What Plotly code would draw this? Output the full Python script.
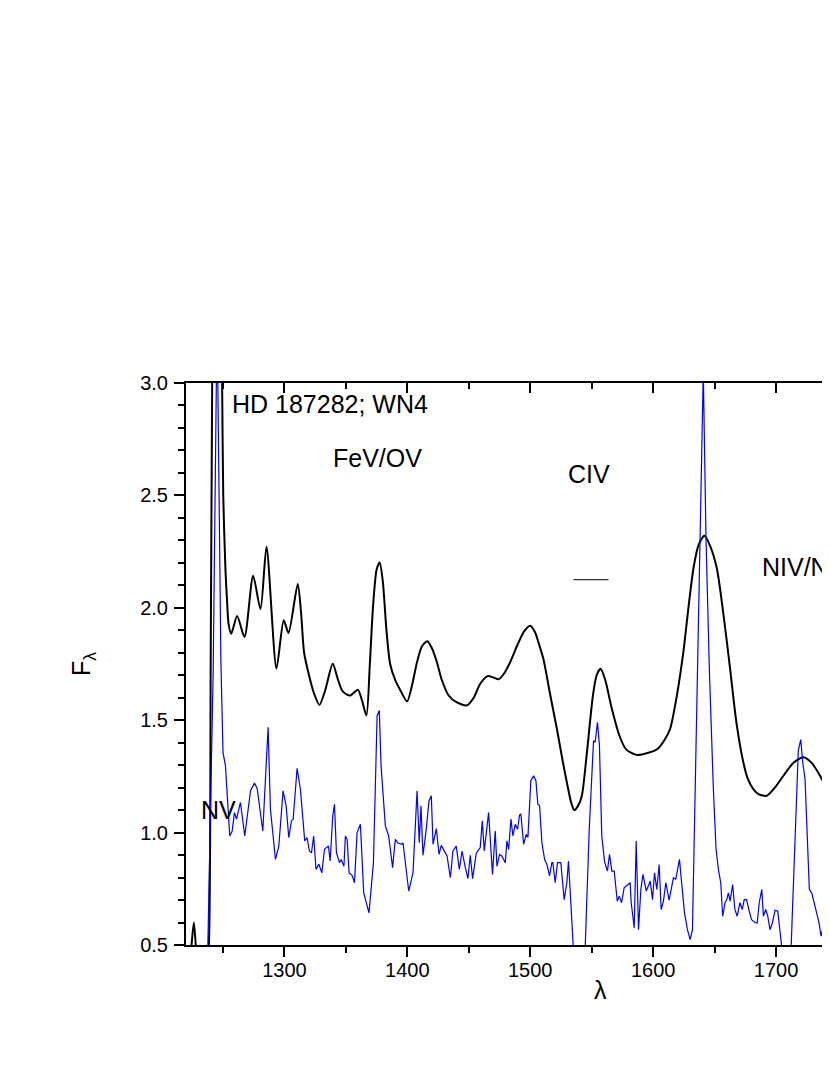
import plotly.graph_objects as go

# colours / fonts
INK = "#000000"
BLUE = "#0000FF"
FONT = "Liberation Sans, Arial, Helvetica, sans-serif"

# smoothed spectrum (black)
wave_smooth = [1218, 1221, 1224, 1226.3, 1228.5, 1232, 1236, 1238.5, 1240, 1241.2, 1243, 1245.5, 1248,
               1249.3, 1250.2, 1252, 1253.4, 1254.5, 1256.7, 1261.5, 1267.5, 1274.5, 1280.5, 1285.4,
               1293.5, 1299.4, 1303.3, 1310.8, 1313.5, 1316, 1320, 1324, 1328.5, 1333, 1339.3, 1343,
               1346.9, 1350.5, 1353.7, 1357, 1359.9, 1363, 1366.7, 1369.5, 1372, 1375, 1377.5, 1380,
               1383, 1386, 1390, 1394.3, 1399.8, 1404, 1407.9, 1412, 1416.3, 1420, 1424, 1428, 1433.6,
               1440, 1448.5, 1454, 1459.3, 1465.3, 1470, 1474.2, 1479, 1483.7, 1490, 1495, 1500, 1504,
               1507, 1510.8, 1516, 1521.7, 1526, 1529.8, 1533, 1535.8, 1539, 1542, 1546, 1551, 1554,
               1557.2, 1561, 1566, 1572.5, 1578, 1584, 1587, 1596, 1603.5, 1609, 1613.8, 1619, 1624.6,
               1628.5, 1632.8, 1637, 1641.7, 1646, 1651.8, 1657, 1662.6, 1668, 1673.4, 1677, 1681.5,
               1686, 1692.4, 1699, 1706, 1714, 1722.2, 1729, 1735.8, 1740, 1744.5]
flux_smooth = [0.30, 0.38, 0.48, 0.60, 0.45, 0.30, 0.35, 0.50, 1.76, 3.00, 3.90, 4.20, 3.70,
               3.00, 2.50, 2.17, 2.02, 1.93, 1.885, 1.963, 1.87, 2.143, 1.994, 2.272,
               1.73, 1.945, 1.888, 2.106, 1.98, 1.80, 1.70, 1.62, 1.568, 1.63, 1.751, 1.69,
               1.632, 1.615, 1.61, 1.625, 1.635, 1.59, 1.521, 1.75, 2.00, 2.17, 2.202, 2.12,
               1.90, 1.75, 1.68, 1.633, 1.583, 1.66, 1.759, 1.83, 1.851, 1.82, 1.759, 1.68, 1.61,
               1.58, 1.566, 1.60, 1.662, 1.696, 1.69, 1.682, 1.71, 1.759, 1.84, 1.895, 1.92, 1.89,
               1.84, 1.77, 1.62, 1.461, 1.33, 1.223, 1.14, 1.10, 1.12, 1.164, 1.35, 1.61, 1.70,
               1.729, 1.68, 1.56, 1.432, 1.37, 1.35, 1.345, 1.355, 1.372, 1.41, 1.461, 1.60, 1.804,
               1.99, 2.176, 2.28, 2.32, 2.28, 2.176, 1.98, 1.729, 1.48, 1.312, 1.24, 1.193,
               1.17, 1.164, 1.20, 1.253, 1.31, 1.335, 1.31, 1.253, 1.21, 1.176]

# observed spectrum (blue)
wave_obs = [1236, 1237.7, 1242, 1245.2, 1248.3, 1250, 1252, 1255.5, 1257.5, 1259.3, 1261, 1264.2, 1267.7,
            1272.4, 1275.6, 1277.8, 1282.4, 1286.7, 1288.6, 1292.7, 1295.4, 1298.9, 1301.4, 1303.5,
            1305.7, 1307.1, 1310.3, 1313, 1316.5, 1318.4, 1320.3, 1322, 1323.8, 1325.7, 1328, 1330.4,
            1332.6, 1335.8, 1337.2, 1339.3, 1340.7, 1342.3, 1344.8, 1346.1, 1348.4, 1349.6, 1351,
            1352.6, 1355, 1357, 1359.1, 1361.8, 1364.5, 1368.8, 1372.4, 1375.4, 1377.2, 1378.6,
            1382.1, 1384.8, 1388, 1390.2, 1392.1, 1395.6, 1396.5, 1398.4, 1401.1, 1404.6, 1406,
            1407.9, 1409.7, 1411.1, 1412.7, 1415.4, 1417.6, 1419.5, 1420.9, 1423.6, 1425.8, 1427.6,
            1432.3, 1435, 1437.1, 1439.8, 1442.3, 1444.5, 1447.2, 1449.3, 1451.2, 1453.1, 1456.1,
            1459.3, 1461, 1462.6, 1466.1, 1467.9, 1469.3, 1471.5, 1472.9, 1475, 1476.9, 1479.7,
            1481, 1482.4, 1484.3, 1485.9, 1487.8, 1489.7, 1491.3, 1492.4, 1494.6, 1496.7, 1498.1,
            1500.5, 1502.7, 1504.6, 1506.2, 1507.6, 1509.5, 1511.7, 1513.6, 1515.7, 1517.6, 1518.4,
            1520.3, 1522.2, 1524.9, 1527.6, 1529.8, 1531.1, 1533, 1535.2, 1538, 1542, 1544.7, 1548,
            1551.5, 1552.8, 1554.7, 1556.3, 1558.2, 1560.5, 1562.8, 1564.5, 1566.4, 1568.3, 1570.8,
            1572.4, 1574.3, 1576.4, 1578.6, 1581.3, 1582.1, 1584.6, 1586.2, 1588.1, 1590, 1591.7,
            1594.4, 1597.6, 1599.5, 1601.1, 1603, 1604.9, 1606.5, 1608.4, 1610.3, 1613, 1616.5,
            1618.4, 1621.4, 1623.3, 1625.5, 1627.9, 1630.1, 1632, 1634.1, 1636.3, 1640.8, 1643,
            1645.8, 1649, 1651.2, 1653.1, 1655, 1656.6, 1658.5, 1659.8, 1661.2, 1662.6, 1664.7,
            1666.5, 1668.4, 1670.6, 1672.5, 1674.1, 1676, 1678.2, 1680.1, 1682.8, 1684.7, 1686.3,
            1688.4, 1689.7, 1691.6, 1693.2, 1695.1, 1697, 1699.2, 1701.4, 1703.3, 1705.1, 1708.5,
            1712.2, 1715.4, 1718.1, 1720.1, 1721.7, 1723.6, 1725.5, 1727.1, 1729, 1730.9, 1733.1,
            1735, 1736.6, 1738.5, 1740.4, 1742, 1743.9]
flux_obs = [0.20, 0.50, 1.714, 3.30, 1.76, 1.357, 1.298, 0.985, 1.007, 1.089, 1.06, 1.134, 0.985,
            1.186, 1.22, 1.196, 1.007, 1.469, 1.104, 0.881, 0.94, 1.186, 1.119, 0.978,
            1.052, 1.06, 1.286, 1.193, 0.963, 0.978, 0.918, 0.91, 0.985, 0.836, 0.86, 0.821,
            0.926, 0.94, 0.874, 1.074, 1.126, 0.911, 0.866, 0.88, 0.85, 0.985, 0.97,
            0.821, 0.81, 0.777, 1.00, 1.037, 0.732, 0.643, 0.866, 1.52, 1.543, 1.298,
            1.03, 0.985, 0.844, 0.97, 0.955, 0.948, 0.955, 0.866, 0.74, 0.821, 0.955,
            1.186, 0.955, 1.119, 0.899, 1.015, 1.141, 1.164, 0.948, 1.018, 0.903, 0.943,
            0.896, 0.799, 0.918, 0.94, 0.836, 0.918, 0.844, 0.795, 0.899, 0.795, 0.908,
            0.933, 1.052, 0.918, 1.089, 0.925, 0.814, 1.007, 0.85, 0.903, 0.896, 0.866,
            0.963, 0.925, 1.06, 0.985, 1.037, 1.015, 1.079, 1.082, 0.948, 0.992, 0.978,
            1.231, 1.253, 1.231, 1.126, 1.119, 0.955, 0.88, 0.858, 0.807, 0.866, 0.866,
            0.777, 0.866, 0.866, 0.702, 0.777, 0.874, 0.717, 0.49, 0.20, 0.20, 0.49, 1.015,
            1.409, 1.402, 1.491, 1.387, 0.985, 0.87, 0.829, 0.903, 0.829, 0.829, 0.695,
            0.717, 0.688, 0.754, 0.766, 0.777, 0.69, 0.576, 0.963, 0.568, 0.747, 0.814,
            0.74, 0.784, 0.702, 0.821, 0.747, 0.858, 0.658, 0.695, 0.777, 0.70, 0.799,
            0.792, 0.881, 0.777, 0.643, 0.568, 0.524, 0.568, 1.164, 1.759, 3.05, 2.31,
            1.714, 1.193, 0.926, 0.836, 0.777, 0.628, 0.688, 0.70, 0.732, 0.695, 0.769,
            0.658, 0.628, 0.688, 0.658, 0.702, 0.702, 0.65, 0.613, 0.60, 0.598, 0.688,
            0.747, 0.628, 0.658, 0.63, 0.568, 0.598, 0.654, 0.65, 0.568, 0.48, 0.30,
            0.48, 0.97, 1.365, 1.414, 1.313, 1.238, 0.985, 0.747, 0.732, 0.688, 0.628,
            0.598, 0.539, 0.583, 0.583, 0.568, 0.568]

# short marker line under the CIV label
civ_mark_x = [1535.2, 1563.7]
civ_mark_y = [2.125, 2.125]

# line labels: text, wavelength, flux, anchor
labels = [("HD 187282; WN4", 1256.1, 2.905, "left"),
          ("FeV/OV", 1376.0, 2.667, "center"),
          ("CIV", 1547.7, 2.594, "center"),
          ("NIV/NIII", 1687.0, 2.18, "left"),
          ("NV", 1246.6, 1.10, "center")]

x_range = [1219.9, 1743.9]
y_range = [0.5, 3.0]

fig = go.Figure()
fig.add_trace(go.Scatter(x=wave_smooth, y=flux_smooth, mode="lines",
                         line=dict(color=INK, width=2, shape="spline", smoothing=0.7),
                         hoverinfo="skip"))
fig.add_trace(go.Scatter(x=wave_obs, y=flux_obs, mode="lines",
                         line=dict(color=BLUE, width=1.2), hoverinfo="skip"))
fig.add_trace(go.Scatter(x=civ_mark_x, y=civ_mark_y, mode="lines", xaxis="x2",
                         line=dict(color=INK, width=1), hoverinfo="skip"))

for text, wx, fy, anchor in labels:
    fig.add_annotation(text=text, x=wx, y=fy, xref="x", yref="y", showarrow=False,
                       xanchor=anchor, font=dict(size=25, color=INK))

# x-axis title (off-centre: the original frame runs past the page edge)
fig.add_annotation(text="λ", x=1557, y=-0.08, xref="x", yref="paper", showarrow=False,
                   yanchor="middle", font=dict(size=25, color=INK))

tick_font = dict(size=20, color=INK)
# page body adds an 8px offset, so the figure is 16px smaller than the window
fig.update_layout(
    width=822, height=1059,
    paper_bgcolor="white", plot_bgcolor="white",
    font=dict(family=FONT, color=INK),
    margin=dict(l=178, r=0, t=375, b=122),
    showlegend=False,
    xaxis=dict(range=x_range, showgrid=False, zeroline=False, showline=True, linecolor=INK,
               linewidth=2, ticks="outside", ticklen=10, tickwidth=2, tickcolor=INK,
               tick0=1300, dtick=100, tickfont=tick_font, ticklabelstandoff=-4,
               minor=dict(dtick=50, ticks="outside", ticklen=6, tickwidth=2, tickcolor=INK)),
    xaxis2=dict(matches="x", overlaying="x", side="top", showgrid=False, zeroline=False,
                showline=True, linecolor=INK, linewidth=2, ticks="inside", ticklen=10,
                tickwidth=2, tickcolor=INK, tick0=1300, dtick=100, showticklabels=False,
                minor=dict(dtick=50, ticks="inside", ticklen=6, tickwidth=2, tickcolor=INK)),
    yaxis=dict(range=y_range, showgrid=False, zeroline=False, showline=True, linecolor=INK,
               linewidth=2, ticks="outside", ticklen=10, tickwidth=2, tickcolor=INK,
               tick0=0.5, dtick=0.5, tickformat=".1f", tickfont=tick_font, ticklabelstandoff=2,
               minor=dict(dtick=0.1, ticks="outside", ticklen=6, tickwidth=2, tickcolor=INK),
               title=dict(text="F<sub>λ</sub>", font=dict(size=25, color=INK), standoff=42)),
)

fig.write_html("out.html")
